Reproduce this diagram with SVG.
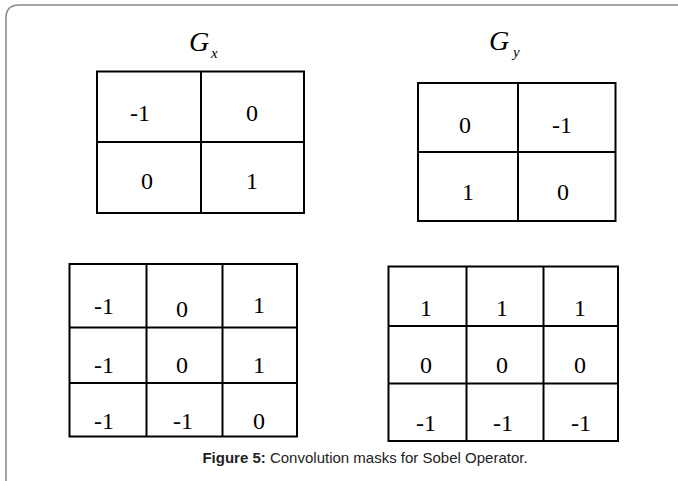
<svg xmlns="http://www.w3.org/2000/svg" width="678" height="481" viewBox="0 0 678 481">
<style>
.grid{fill:none;stroke:#000;stroke-width:2}
.num{font-family:"Liberation Serif",serif;font-size:24px;fill:#000;text-anchor:middle}
.lbl{font-family:"Liberation Serif",serif;font-style:italic;fill:#000}
.cap{font-family:"Liberation Sans",Arial,sans-serif;font-size:15px;fill:#222;text-anchor:middle}
</style>
<rect width="678" height="481" fill="#fff"/>
<path d="M6,481 V18 Q6,5 19,5 H678" fill="none" stroke="#8a8a8a" stroke-width="1.6"/>
<g id="gx-label"><text class="lbl" x="189" y="51" font-size="28">G</text><text class="lbl" x="211" y="58" font-size="15">x</text></g>
<g id="gy-label"><text class="lbl" x="489" y="50" font-size="28">G</text><text class="lbl" x="513" y="57" font-size="15">y</text></g>
<g id="gx-2x2">
<rect class="grid" x="97" y="71.5" width="207" height="141.5"/>
<line class="grid" x1="201" y1="71.5" x2="201" y2="213"/>
<line class="grid" x1="97" y1="142" x2="304" y2="142"/>
<text class="num" x="140" y="121">-1</text><text class="num" x="252" y="121">0</text>
<text class="num" x="147" y="189">0</text><text class="num" x="252" y="189">1</text>
</g>
<g id="gy-2x2">
<rect class="grid" x="418" y="83" width="197.5" height="138"/>
<line class="grid" x1="518" y1="83" x2="518" y2="221"/>
<line class="grid" x1="418" y1="152" x2="615.5" y2="152"/>
<text class="num" x="465" y="133">0</text><text class="num" x="562" y="133">-1</text>
<text class="num" x="468" y="200">1</text><text class="num" x="563" y="200">0</text>
</g>
<g id="gx-3x3">
<rect class="grid" x="69.5" y="264" width="227.5" height="172.5"/>
<line class="grid" x1="146.5" y1="264" x2="146.5" y2="436.5"/>
<line class="grid" x1="222.5" y1="264" x2="222.5" y2="436.5"/>
<line class="grid" x1="69.5" y1="327.5" x2="297" y2="327.5"/>
<line class="grid" x1="69.5" y1="383" x2="297" y2="383"/>
<text class="num" x="104" y="314">-1</text><text class="num" x="182" y="317">0</text><text class="num" x="259" y="313">1</text>
<text class="num" x="104" y="373">-1</text><text class="num" x="182" y="373">0</text><text class="num" x="259" y="373">1</text>
<text class="num" x="104" y="429">-1</text><text class="num" x="183" y="429">-1</text><text class="num" x="259" y="429">0</text>
</g>
<g id="gy-3x3">
<rect class="grid" x="388.5" y="266.5" width="229.5" height="174.5"/>
<line class="grid" x1="466.5" y1="266.5" x2="466.5" y2="441"/>
<line class="grid" x1="543.5" y1="266.5" x2="543.5" y2="441"/>
<line class="grid" x1="388.5" y1="326" x2="618" y2="326"/>
<line class="grid" x1="388.5" y1="383.5" x2="618" y2="383.5"/>
<text class="num" x="426" y="316">1</text><text class="num" x="502" y="316">1</text><text class="num" x="580" y="316">1</text>
<text class="num" x="426" y="373">0</text><text class="num" x="502" y="373">0</text><text class="num" x="580" y="373">0</text>
<text class="num" x="426" y="431">-1</text><text class="num" x="503" y="431">-1</text><text class="num" x="581" y="431">-1</text>
</g>
<text class="cap" x="365" y="463"><tspan font-weight="bold">Figure 5:</tspan> Convolution masks for Sobel Operator.</text>
</svg>
